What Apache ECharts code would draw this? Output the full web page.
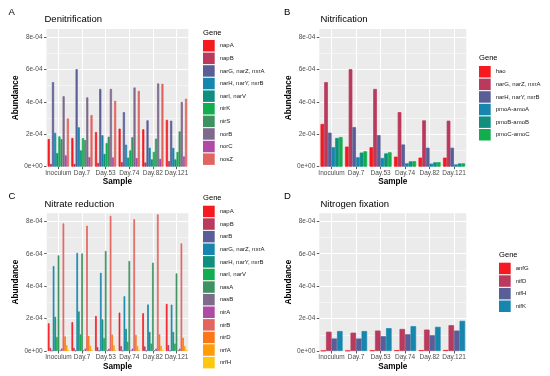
<!DOCTYPE html>
<html><head><meta charset="utf-8">
<script src="https://cdn.jsdelivr.net/npm/echarts@6/dist/echarts.min.js"></script>
<style>html,body{margin:0;padding:0;background:#fff}#c{width:550px;height:376px}</style>
</head><body><div id="c"></div>
<script>
const samples = ['Inoculum', 'Day.7', 'Day.53', 'Day.74', 'Day.82', 'Day.121'];
const yTicks = [0, 2e-4, 4e-4, 6e-4, 8e-4];
const yMinor = [1e-4, 3e-4, 5e-4, 7e-4];
const yMax = 8.5e-4;
const palette = ['#F51A1F', '#B93A5C', '#5A5E97', '#1786AE', '#108F7E', '#12AD4F', '#3E9160',
                 '#7E6A8B', '#AF4BA7', '#E2645F', '#FC7617', '#FF9C07', '#FFC70E'];

// A: Denitrification
const denitGenes = ['napA', 'napB', 'narG, narZ, nxrA', 'narH, narY, nxrB', 'narI, narV', 'nirK', 'nirS', 'norB', 'norC', 'nosZ'];
const denitValues = [
  [1.71e-4, 1.77e-4, 2.14e-4, 2.35e-4, 2.31e-4, 2.89e-4],
  [0.17e-4, 0.17e-4, 0.23e-4, 0.28e-4, 0.26e-4, 0.34e-4],
  [5.22e-4, 6.02e-4, 4.80e-4, 3.37e-4, 2.86e-4, 2.84e-4],
  [2.09e-4, 2.43e-4, 1.94e-4, 1.36e-4, 1.17e-4, 1.16e-4],
  [0.84e-4, 1.01e-4, 0.79e-4, 0.56e-4, 0.45e-4, 0.45e-4],
  [1.87e-4, 1.76e-4, 1.46e-4, 1.01e-4, 0.92e-4, 0.91e-4],
  [1.70e-4, 1.64e-4, 1.85e-4, 1.82e-4, 1.73e-4, 2.18e-4],
  [4.35e-4, 4.28e-4, 4.80e-4, 4.89e-4, 5.14e-4, 4.00e-4],
  [0.70e-4, 0.59e-4, 0.57e-4, 0.53e-4, 0.48e-4, 0.63e-4],
  [2.98e-4, 3.19e-4, 4.07e-4, 4.68e-4, 5.12e-4, 4.20e-4]
];

// B: Nitrification
const nitrGenes = ['hao', 'narG, narZ, nxrA', 'narH, narY, nxrB', 'pmoA-amoA', 'pmoB-amoB', 'pmoC-amoC'];
const nitrValues = [
  [2.64e-4, 1.24e-4, 1.20e-4, 0.62e-4, 0.56e-4, 0.56e-4],
  [5.22e-4, 6.02e-4, 4.80e-4, 3.37e-4, 2.86e-4, 2.84e-4],
  [2.10e-4, 2.44e-4, 1.95e-4, 1.37e-4, 1.17e-4, 1.17e-4],
  [1.20e-4, 0.58e-4, 0.54e-4, 0.21e-4, 0.19e-4, 0.14e-4],
  [1.77e-4, 0.87e-4, 0.82e-4, 0.33e-4, 0.27e-4, 0.20e-4],
  [1.83e-4, 0.95e-4, 0.89e-4, 0.34e-4, 0.28e-4, 0.21e-4]
];

// C: Nitrate reduction
const nredGenes = ['napA', 'napB', 'narB', 'narG, narZ, nxrA', 'narH, narY, nxrB', 'narI, narV', 'nasA', 'nasB', 'nirA', 'nirB', 'nirD', 'nrfA', 'nrfH'];
const nredValues = [
  [1.71e-4, 1.78e-4, 2.16e-4, 2.37e-4, 2.33e-4, 2.91e-4],
  [0.19e-4, 0.19e-4, 0.24e-4, 0.30e-4, 0.28e-4, 0.36e-4],
  [0.02e-4, 0.02e-4, 0.02e-4, 0.02e-4, 0.02e-4, 0.02e-4],
  [5.24e-4, 6.05e-4, 4.82e-4, 3.38e-4, 2.87e-4, 2.86e-4],
  [2.11e-4, 2.44e-4, 1.95e-4, 1.37e-4, 1.18e-4, 1.18e-4],
  [0.86e-4, 1.02e-4, 0.80e-4, 0.57e-4, 0.46e-4, 0.46e-4],
  [5.90e-4, 6.02e-4, 6.17e-4, 5.55e-4, 5.45e-4, 4.79e-4],
  [0.04e-4, 0.04e-4, 0.04e-4, 0.04e-4, 0.04e-4, 0.04e-4],
  [0.16e-4, 0.15e-4, 0.15e-4, 0.15e-4, 0.15e-4, 0.15e-4],
  [7.87e-4, 7.73e-4, 8.34e-4, 8.13e-4, 8.43e-4, 6.64e-4],
  [0.90e-4, 0.93e-4, 1.01e-4, 1.00e-4, 1.03e-4, 0.82e-4],
  [0.36e-4, 0.33e-4, 0.35e-4, 0.31e-4, 0.33e-4, 0.31e-4],
  [0.08e-4, 0.08e-4, 0.08e-4, 0.08e-4, 0.08e-4, 0.08e-4]
];

// D: Nitrogen fixation
const nfixGenes = ['anfG', 'nifD', 'nifH', 'nifK'];
const nfixValues = [
  [0.02e-4, 0.02e-4, 0.04e-4, 0.05e-4, 0.05e-4, 0.06e-4],
  [1.19e-4, 1.13e-4, 1.26e-4, 1.36e-4, 1.32e-4, 1.59e-4],
  [0.77e-4, 0.77e-4, 0.91e-4, 1.03e-4, 0.97e-4, 1.26e-4],
  [1.23e-4, 1.23e-4, 1.41e-4, 1.53e-4, 1.49e-4, 1.86e-4]
];

const FONT = '"Liberation Sans", Arial, Helvetica, sans-serif';
const panels = [
  {label: 'A', title: 'Denitrification', genes: denitGenes, values: denitValues,
   grid: {left: 46.5, top: 29, width: 141.8, height: 137.7}, legend: {left: 203, top: 40}, gene: [203, 33.3], titlePos: [44.5, 19.5], labelPos: [8.5, 12.5]},
  {label: 'B', title: 'Nitrification', genes: nitrGenes, values: nitrValues,
   grid: {left: 319.3, top: 29, width: 147, height: 137.7}, legend: {left: 479, top: 66}, gene: [479, 58.3], titlePos: [320.5, 19.5], labelPos: [284, 12.5]},
  {label: 'C', title: 'Nitrate reduction', genes: nredGenes, values: nredValues,
   grid: {left: 46.7, top: 213.2, width: 141.6, height: 137.8}, legend: {left: 203, top: 205.7}, gene: [203, 198.3], titlePos: [44.5, 204], labelPos: [8.5, 196.7]},
  {label: 'D', title: 'Nitrogen fixation', genes: nfixGenes, values: nfixValues,
   grid: {left: 319.3, top: 213.2, width: 147, height: 137.8}, legend: {left: 499, top: 262.7}, gene: [499, 255], titlePos: [320.5, 204], labelPos: [284, 196.5]}
];

function fmtSci(v) {
  if (v === 0) return '0e+00';
  return v.toExponential(0).replace(/e([+-])(\d)$/, 'e$10$2');
}

const option = {animation: false, backgroundColor: '#fff', grid: [], xAxis: [], yAxis: [], series: [], legend: [], graphic: []};

panels.forEach((p, i) => {
  option.grid.push(Object.assign({show: true, backgroundColor: '#EBEBEB', borderWidth: 0, containLabel: false}, p.grid));
  option.xAxis.push({
    type: 'category', gridIndex: i, data: samples,
    axisLine: {show: false},
    axisTick: {show: true, alignWithLabel: true, length: 2.5, lineStyle: {color: '#333', width: 0.8}},
    axisLabel: {interval: 0, fontSize: 6.5, color: '#4D4D4D', margin: 3, fontFamily: FONT},
    splitLine: {show: false},
    name: 'Sample', nameLocation: 'middle', nameGap: 10,
    nameTextStyle: {fontWeight: 'bold', fontSize: 8.2, color: '#000', fontFamily: FONT, lineHeight: 9}
  });
  option.xAxis.push({
    type: 'value', gridIndex: i, min: 0, max: 6, position: 'bottom',
    axisLine: {show: false}, axisLabel: {show: false},
    axisTick: {show: false, customValues: [0.5, 1.5, 2.5, 3.5, 4.5, 5.5]},
    splitLine: {show: true, lineStyle: {color: '#fff', width: 1.1}}
  });
  option.yAxis.push({
    type: 'value', gridIndex: i, min: 0, max: yMax,
    axisLine: {show: false},
    axisTick: {show: true, length: 2.5, customValues: yTicks, lineStyle: {color: '#333', width: 0.8}},
    axisLabel: {customValues: yTicks, formatter: fmtSci, fontSize: 6.5, color: '#4D4D4D', margin: 4, fontFamily: FONT},
    splitLine: {show: true, lineStyle: {color: '#fff', width: 1.1}},
    name: 'Abundance', nameLocation: 'middle', nameGap: 24, nameRotate: 90,
    nameTextStyle: {fontWeight: 'bold', fontSize: 8.2, color: '#000', fontFamily: FONT, lineHeight: 9}
  });
  option.yAxis.push({
    type: 'value', gridIndex: i, min: 0, max: yMax, position: 'left',
    axisLine: {show: false}, axisLabel: {show: false},
    axisTick: {show: false, customValues: yMinor},
    splitLine: {show: true, lineStyle: {color: '#fff', width: 0.5}}
  });
  p.genes.forEach((g, j) => {
    option.series.push({
      type: 'bar', name: g, xAxisIndex: 2 * i, yAxisIndex: 2 * i,
      data: p.values[j], itemStyle: {color: palette[j], borderColor: palette[j], borderWidth: 0.7},
      barGap: 0, barCategoryGap: '10%', emphasis: {disabled: true}, silent: true
    });
  });
  option.legend.push({
    orient: 'vertical', left: p.legend.left, top: p.legend.top, padding: 0,
    itemWidth: 11.7, itemHeight: 11.5, itemGap: 1.1, icon: 'rect', selectedMode: false,
    textStyle: {fontSize: 6, color: '#1a1a1a', fontFamily: FONT},
    data: p.genes.map((g, j) => ({name: g, itemStyle: {color: palette[j], borderWidth: 0}}))
  });
  option.graphic.push(
    {type: 'text', x: p.labelPos[0], y: p.labelPos[1], style: {text: p.label, font: '9.5px ' + FONT, fill: '#000', align: 'left', verticalAlign: 'middle'}},
    {type: 'text', x: p.titlePos[0], y: p.titlePos[1], style: {text: p.title, font: '9.5px ' + FONT, fill: '#000', align: 'left', verticalAlign: 'middle'}},
    {type: 'text', x: p.gene[0], y: p.gene[1], style: {text: 'Gene', font: '7.6px ' + FONT, fill: '#000', align: 'left', verticalAlign: 'middle'}}
  );
});

const chart = echarts.init(document.getElementById('c'), null, {renderer: 'canvas'});
chart.setOption(option);
</script></body></html>
